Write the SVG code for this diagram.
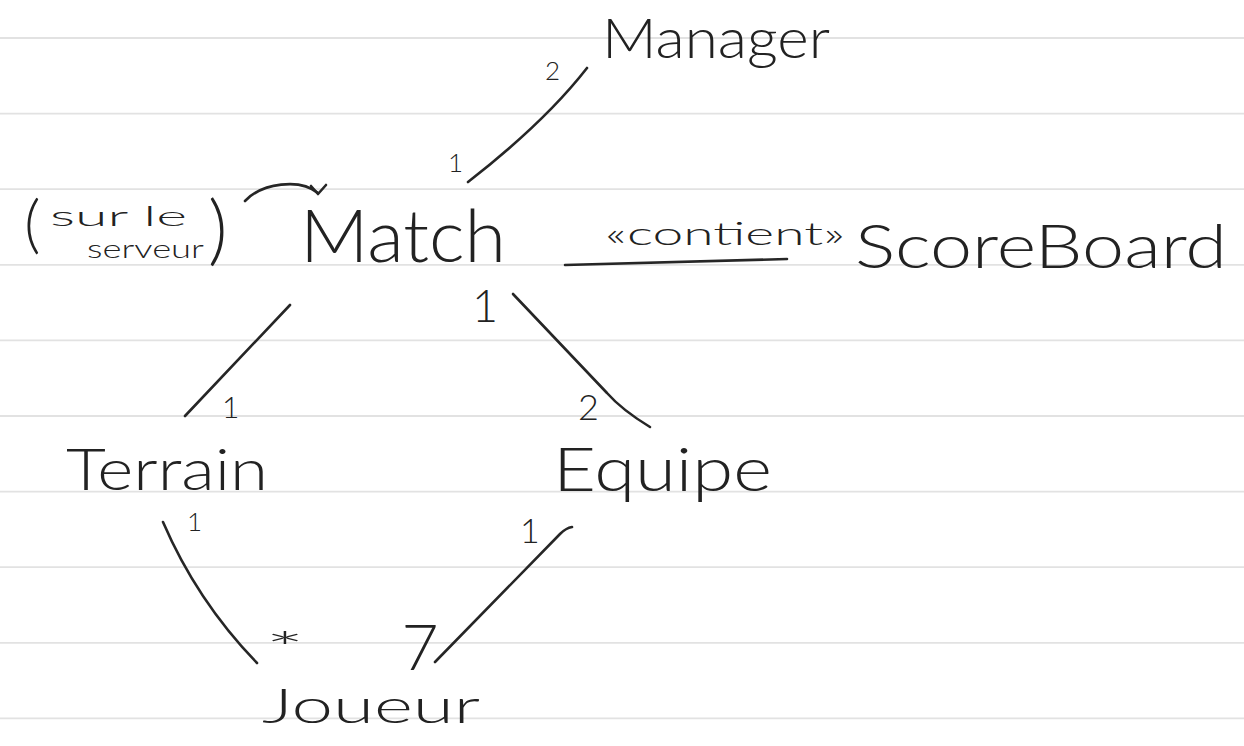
<svg xmlns="http://www.w3.org/2000/svg" width="1244" height="746" viewBox="0 0 1244 746">
<style>
.rule{stroke:#e2e2e2;stroke-width:1.8;fill:none}
.ink{stroke:#262626;stroke-width:2.6;fill:none;stroke-linecap:round;stroke-linejoin:round}
text{font-family:"Lato","Liberation Sans",sans-serif;font-weight:300;fill:#222}
.mult{font-family:"Lato","Liberation Sans",sans-serif}
</style>
<rect width="1244" height="746" fill="#ffffff"/>
<g id="paper-rules">
<line class="rule" x1="0" y1="38" x2="1244" y2="38"/>
<line class="rule" x1="0" y1="113.6" x2="1244" y2="113.6"/>
<line class="rule" x1="0" y1="189.2" x2="1244" y2="189.2"/>
<line class="rule" x1="0" y1="264.8" x2="1244" y2="264.8"/>
<line class="rule" x1="0" y1="340.4" x2="1244" y2="340.4"/>
<line class="rule" x1="0" y1="416" x2="1244" y2="416"/>
<line class="rule" x1="0" y1="491.6" x2="1244" y2="491.6"/>
<line class="rule" x1="0" y1="567.2" x2="1244" y2="567.2"/>
<line class="rule" x1="0" y1="642.8" x2="1244" y2="642.8"/>
<line class="rule" x1="0" y1="718.4" x2="1244" y2="718.4"/>
</g>
<g id="connectors">
<path class="ink" d="M468,182 Q545,122 587,68"/>
<path class="ink" d="M245,201 C262,183 300,178 318,193"/>
<path class="ink" d="M311,186 L318,194 L326,185"/>
<path class="ink" d="M565,265 L787,259"/>
<path class="ink" d="M290,305 L185,416"/>
<path class="ink" d="M513,294 L607,393 Q622,410 650,427"/>
<path class="ink" d="M163,522 Q197,601 257,663"/>
<path class="ink" d="M435,662 L560,534 Q566,528 572,527"/>
<text class="mult" x="545" y="80" font-size="26">2</text>
<text class="mult" x="448" y="172" font-size="26">1</text>
<text x="605" y="245" font-size="32" textLength="240" lengthAdjust="spacingAndGlyphs">«contient»</text>
<text class="mult" x="222" y="418" font-size="30">1</text>
<text class="mult" x="472" y="322" font-size="45">1</text>
<text class="mult" x="578" y="420" font-size="36">2</text>
<text class="mult" x="187" y="531" font-size="26">1</text>
<text class="mult" x="520" y="543" font-size="34">1</text>
<text class="mult" x="265" y="664" font-size="44" textLength="40" lengthAdjust="spacingAndGlyphs">*</text>
<text class="mult" x="420" y="670" font-size="64" text-anchor="middle">7</text>
</g>
<g id="node-manager">
<text x="602" y="58" font-size="56" textLength="228" lengthAdjust="spacingAndGlyphs">Manager</text>
</g>
<g id="note-serveur">
<text><tspan x="24" y="246" font-size="64">(</tspan><tspan x="50" y="226" font-size="28" textLength="137" lengthAdjust="spacingAndGlyphs">sur le</tspan><tspan x="87" y="258" font-size="26" textLength="117" lengthAdjust="spacingAndGlyphs">serveur</tspan><tspan x="208" y="256" font-size="76">)</tspan></text>
</g>
<g id="node-match">
<text x="300" y="262" font-size="72" textLength="206" lengthAdjust="spacingAndGlyphs">Match</text>
</g>
<g id="node-scoreboard">
<text x="855" y="268" font-size="62" textLength="372" lengthAdjust="spacingAndGlyphs">ScoreBoard</text>
</g>
<g id="node-terrain">
<text x="66" y="490" font-size="58" textLength="202" lengthAdjust="spacingAndGlyphs">Terrain</text>
</g>
<g id="node-equipe">
<text x="553" y="491" font-size="62" textLength="219" lengthAdjust="spacingAndGlyphs">Equipe</text>
</g>
<g id="node-joueur">
<text x="262" y="723" font-size="48" textLength="218" lengthAdjust="spacingAndGlyphs">Joueur</text>
</g>
</svg>
